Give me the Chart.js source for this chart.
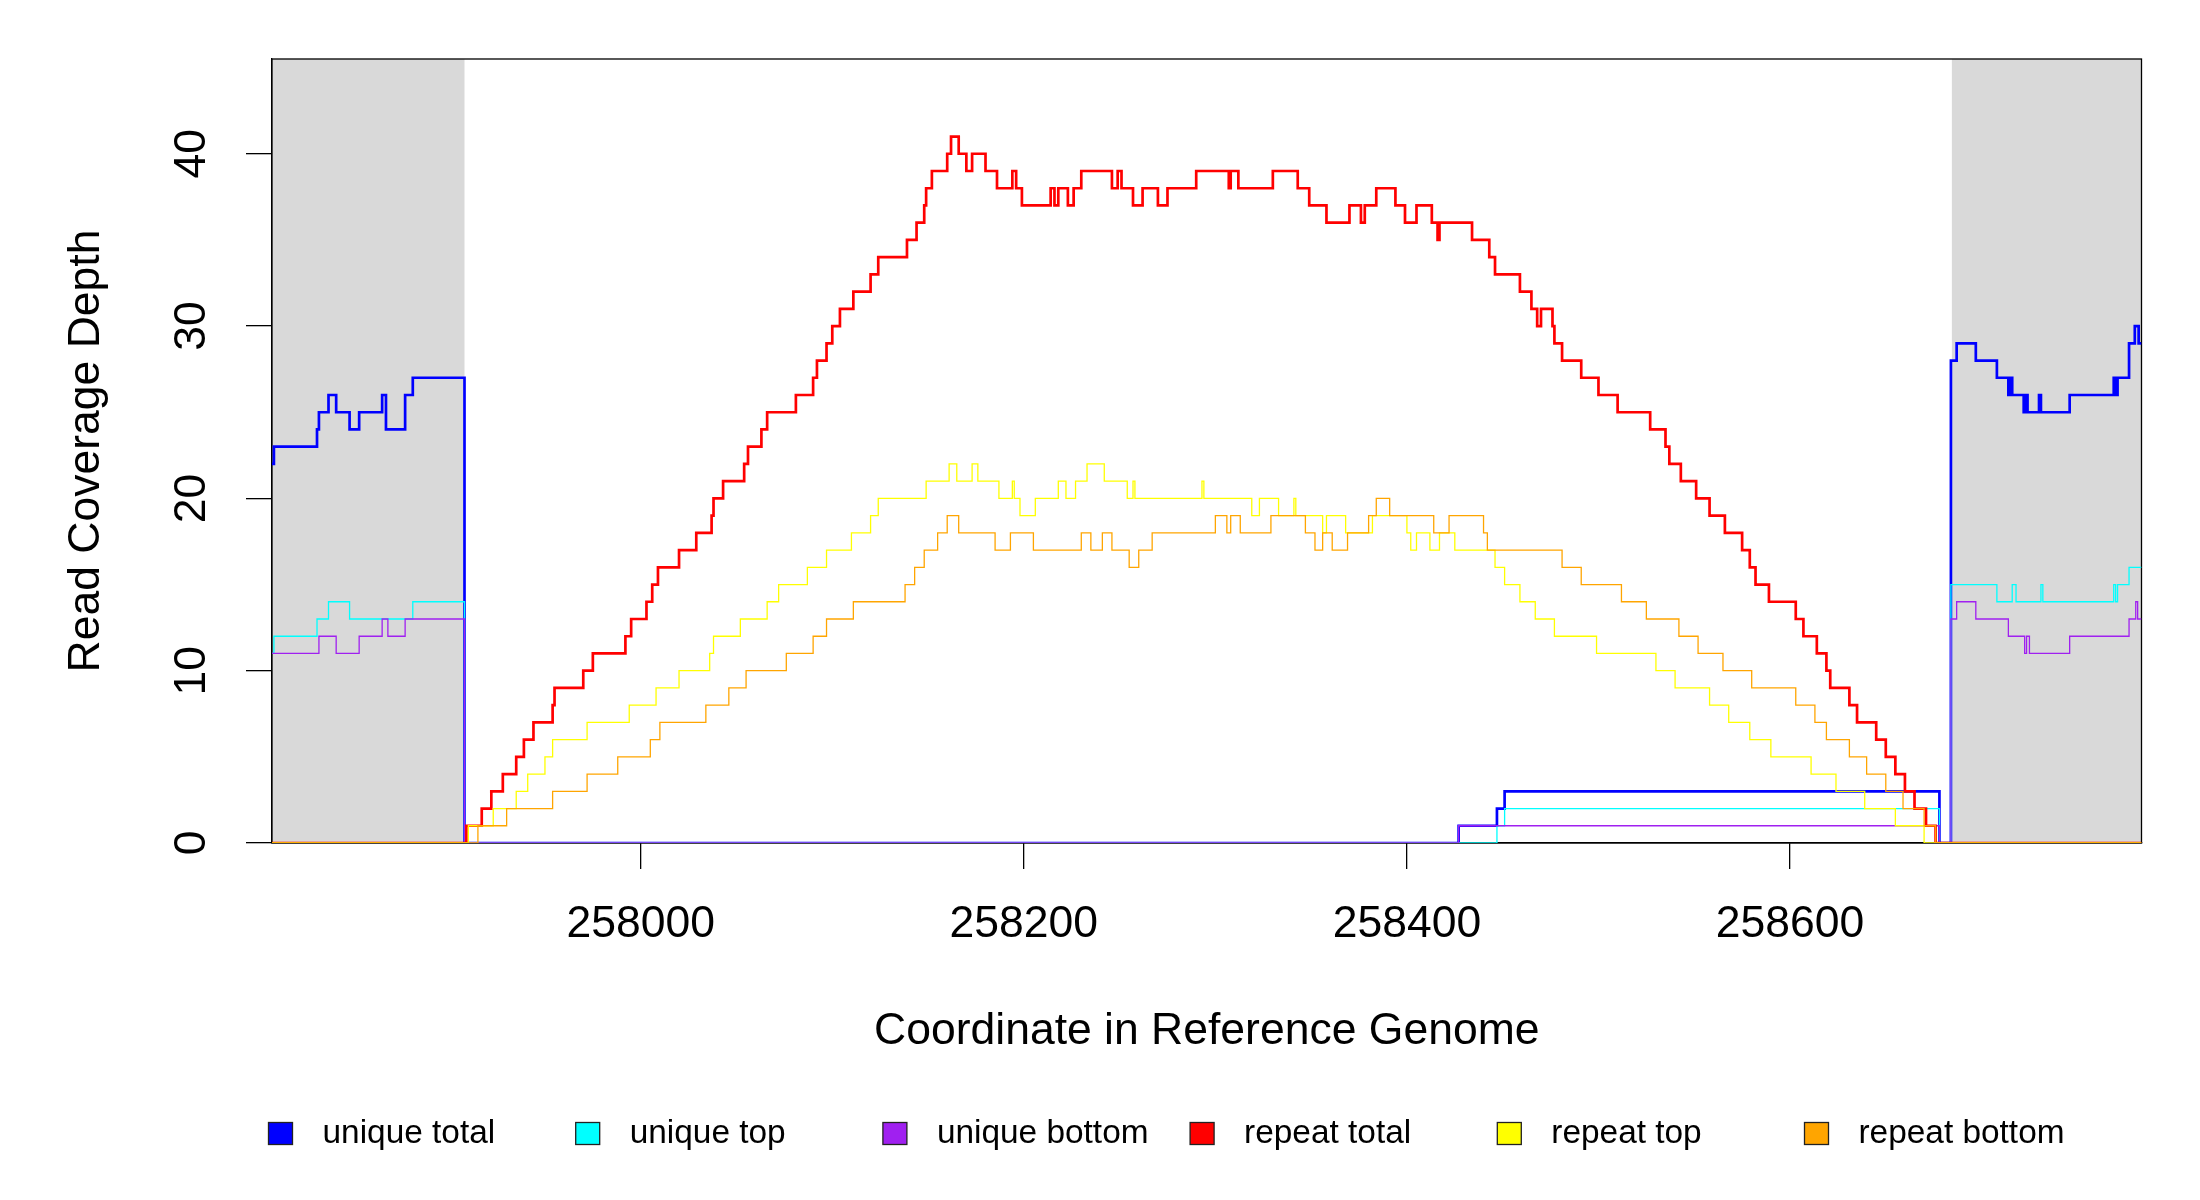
<!DOCTYPE html>
<html>
<head>
<meta charset="utf-8">
<title>Read coverage depth</title>
<script src="https://cdn.jsdelivr.net/npm/chart.js@4.4.1/dist/chart.umd.min.js"></script>
<style>
  html, body { margin: 0; padding: 0; background: #fff; }
  #coverage { display: block; }
</style>
</head>
<body>
<canvas id="coverage" width="2200" height="1200"></canvas>
<script>
// [coordinate, depth] change points, each depth holds until the next coordinate
const uniqueTotal = [[257807.5,22],[257808.5,23],[257831,24],[257832,25],[257837,26],[257841,25],[257848,24],[257853,25],[257865,26],[257867,24],[257877,26],[257881,27],[257908,0],[258427,1],[258447,2],[258451,3],[258678,0],[258684,28],[258687,29],[258697,28],[258708,27],[258714,26],[258715,27],[258716,26],[258722,25],[258723,26],[258724,25],[258730,26],[258731,25],[258746,26],[258769,27],[258770,26],[258771,27],[258777,29],[258780,30],[258782,29],[258783.5,29]];
const uniqueTop = [[257807.5,11],[257808.5,12],[257831,13],[257837,14],[257848,13],[257881,14],[257908,0],[258447,1],[258451,2],[258678,0],[258684,15],[258708,14],[258716,15],[258718,14],[258731,15],[258732,14],[258769,15],[258770,14],[258771,15],[258777,16],[258783.5,16]];
const uniqueBottom = [[257807.5,11],[257832,12],[257841,11],[257853,12],[257865,13],[257868,12],[257877,13],[257908,0],[258427,1],[258678,0],[258684,13],[258687,14],[258697,13],[258714,12],[258722.5,11],[258723.5,12],[258725,11],[258746,12],[258777,13],[258780.5,14],[258781.5,13],[258783.5,13]];
const repeatTotal = [[257807.5,0],[257909,1],[257917,2],[257922,3],[257928,4],[257935,5],[257939,6],[257944,7],[257954,8],[257955,9],[257970,10],[257975,11],[257992,12],[257995,13],[258003,14],[258006,15],[258009,16],[258020,17],[258029,18],[258037,19],[258038,20],[258043,21],[258054,22],[258056,23],[258063,24],[258066,25],[258081,26],[258090,27],[258092,28],[258097,29],[258100,30],[258104,31],[258111,32],[258120,33],[258124,34],[258139,35],[258144,36],[258148,37],[258149,38],[258152,39],[258160,40],[258162,41],[258166,40],[258170,39],[258173,40],[258180,39],[258186,38],[258194,39],[258196,38],[258199,37],[258214,38],[258216,37],[258218,38],[258223,37],[258226,38],[258230,39],[258246,38],[258249,39],[258251,38],[258257,37],[258262,38],[258270,37],[258275,38],[258290,39],[258307,38],[258308,39],[258312,38],[258330,39],[258343,38],[258349,37],[258358,36],[258370,37],[258376,36],[258378,37],[258384,38],[258394,37],[258399,36],[258405,37],[258413,36],[258416,35],[258417,36],[258434,35],[258443,34],[258446,33],[258459,32],[258465,31],[258468,30],[258470,31],[258476,30],[258477,29],[258481,28],[258491,27],[258500,26],[258510,25],[258527,24],[258535,23],[258537,22],[258543,21],[258551,20],[258558,19],[258566,18],[258575,17],[258579,16],[258582,15],[258589,14],[258603,13],[258607,12],[258614,11],[258619,10],[258621,9],[258631,8],[258635,7],[258645,6],[258650,5],[258655,4],[258660,3],[258665,2],[258671,1],[258676,0],[258783.5,0]];
const repeatTop = [[257807.5,0],[257910,1],[257923,2],[257935,3],[257941,4],[257950,5],[257954,6],[257972,7],[257994,8],[258008,9],[258020,10],[258036,11],[258038,12],[258052,13],[258066,14],[258072,15],[258087,16],[258097,17],[258110,18],[258120,19],[258124,20],[258149,21],[258161,22],[258165,21],[258173,22],[258176,21],[258187,20],[258194,21],[258195,20],[258198,19],[258206,20],[258218,21],[258222,20],[258227,21],[258233,22],[258242,21],[258254,20],[258257,21],[258258,20],[258293,21],[258294,20],[258319,19],[258323,20],[258333,19],[258341,20],[258342,19],[258356,18],[258358,19],[258368,18],[258382,19],[258400,18],[258402,17],[258405,18],[258412,17],[258417,18],[258425,17],[258446,16],[258451,15],[258459,14],[258467,13],[258477,12],[258499,11],[258530,10],[258540,9],[258558,8],[258568,7],[258579,6],[258590,5],[258611,4],[258624,3],[258639,2],[258655,1],[258670,0],[258783.5,0]];
const repeatBottom = [[257807.5,0],[257915,1],[257930,2],[257954,3],[257972,4],[257988,5],[258005,6],[258010,7],[258034,8],[258046,9],[258055,10],[258076,11],[258090,12],[258097,13],[258111,14],[258138,15],[258143,16],[258148,17],[258155,18],[258160,19],[258166,18],[258185,17],[258193,18],[258205,17],[258230,18],[258235,17],[258241,18],[258246,17],[258255,16],[258260,17],[258267,18],[258300,19],[258306,18],[258308,19],[258313,18],[258329,19],[258347,18],[258352,17],[258356,18],[258361,17],[258369,18],[258380,19],[258384,20],[258391,19],[258414,18],[258422,19],[258440,18],[258442,17],[258481,16],[258491,15],[258512,14],[258525,13],[258542,12],[258552,11],[258565,10],[258580,9],[258603,8],[258613,7],[258619,6],[258631,5],[258640,4],[258650,3],[258659,2],[258670,1],[258676,0],[258783.5,0]];

const seriesNames = ["unique total", "unique top", "unique bottom", "repeat total", "repeat top", "repeat bottom"];
const seriesColors = ["#0000ff", "#00ffff", "#a020f0", "#ff0000", "#ffff00", "#ffa500"];
const xTicks = [258000, 258200, 258400, 258600];
const yTicks = [0, 10, 20, 30, 40];
const xRange = [257807.5, 258783.5];
const yRange = [0, 45.5];
const leftFlank = [257807.5, 257908];   // shaded flanks either side of the repeat
const rightFlank = [258684.5, 258783.5];

const FONT = "'Liberation Sans', Arial, sans-serif";
const series = [uniqueTotal, uniqueTop, uniqueBottom, repeatTotal, repeatTop, repeatBottom];
const widths = [2.7, 1.3, 1.3, 2.7, 1.3, 1.3];

const flankShading = {
  id: "flankShading",
  beforeDatasetsDraw(chart) {
    const { ctx, chartArea: a, scales: { x } } = chart;
    ctx.save();
    ctx.fillStyle = "#d9d9d9";
    [leftFlank, rightFlank].forEach(([from, to]) => {
      const x0 = Math.max(x.getPixelForValue(from), a.left);
      const x1 = Math.min(x.getPixelForValue(to), a.right);
      ctx.fillRect(x0, a.top, x1 - x0, a.bottom - a.top);
    });
    ctx.strokeStyle = "#000";
    ctx.lineWidth = 1.3;
    ctx.strokeRect(a.left, a.top, a.right - a.left, a.bottom - a.top);
    ctx.restore();
  }
};

// R style legend: one row, equal spacing, square swatches
const legendRow = {
  id: "legendRow",
  afterDraw(chart) {
    const ctx = chart.ctx;
    const y = 1133.5;
    ctx.save();
    ctx.font = "33.4px " + FONT;
    ctx.textBaseline = "middle";
    ctx.textAlign = "left";
    seriesNames.forEach((name, i) => {
      const left = 268.5 + i * 307.2;
      ctx.fillStyle = seriesColors[i];
      ctx.fillRect(left, y - 11, 24, 22);
      ctx.strokeStyle = "#222";
      ctx.lineWidth = 1.3;
      ctx.strokeRect(left, y - 11, 24, 22);
      ctx.fillStyle = "#000";
      ctx.fillText(name, left + 54, y);
    });
    ctx.restore();
  }
};

const axisFont = { family: FONT, size: 44.5 };

new Chart(document.getElementById("coverage"), {
  type: "line",
  data: {
    datasets: series.map((s, i) => ({
      label: seriesNames[i],
      data: s.map(([x, y]) => ({ x: x, y: y })),
      borderColor: seriesColors[i],
      backgroundColor: seriesColors[i],
      borderWidth: widths[i],
      pointRadius: 0,
      stepped: true,
      fill: false,
      order: series.length - i
    }))
  },
  options: {
    responsive: false,
    animation: false,
    devicePixelRatio: 1,
    layout: { padding: { top: 59, right: 58.5, bottom: 0, left: 0 } },
    plugins: { legend: { display: false }, tooltip: { enabled: false } },
    scales: {
      x: {
        type: "linear",
        min: xRange[0],
        max: xRange[1],
        afterBuildTicks: (s) => { s.ticks = xTicks.map(v => ({ value: v })); },
        afterFit: (s) => { s.height = 357; },
        ticks: { callback: v => String(v), font: axisFont, color: "#000", padding: 29, maxRotation: 0, autoSkip: false },
        grid: { drawOnChartArea: false, drawTicks: true, tickLength: 26, color: "#000", lineWidth: 1.3 },
        border: { display: true, color: "#000", width: 1.3 },
        title: { display: true, text: "Coordinate in Reference Genome", font: axisFont, color: "#000", padding: { top: 0, bottom: 142 } }
      },
      y: {
        min: yRange[0],
        max: yRange[1],
        afterBuildTicks: (s) => { s.ticks = yTicks.map(v => ({ value: v })); },
        afterFit: (s) => { s.width = 272; },
        ticks: { font: axisFont, color: "#000", padding: 29, minRotation: 90, maxRotation: 90, crossAlign: "center", autoSkip: false },
        grid: { drawOnChartArea: false, drawTicks: true, tickLength: 26, color: "#000", lineWidth: 1.3 },
        border: { display: true, color: "#000", width: 1.3 },
        title: { display: true, text: "Read Coverage Depth", font: axisFont, color: "#000", padding: { top: 60, bottom: 0 } }
      }
    }
  },
  plugins: [flankShading, legendRow]
});
</script>
</body>
</html>
